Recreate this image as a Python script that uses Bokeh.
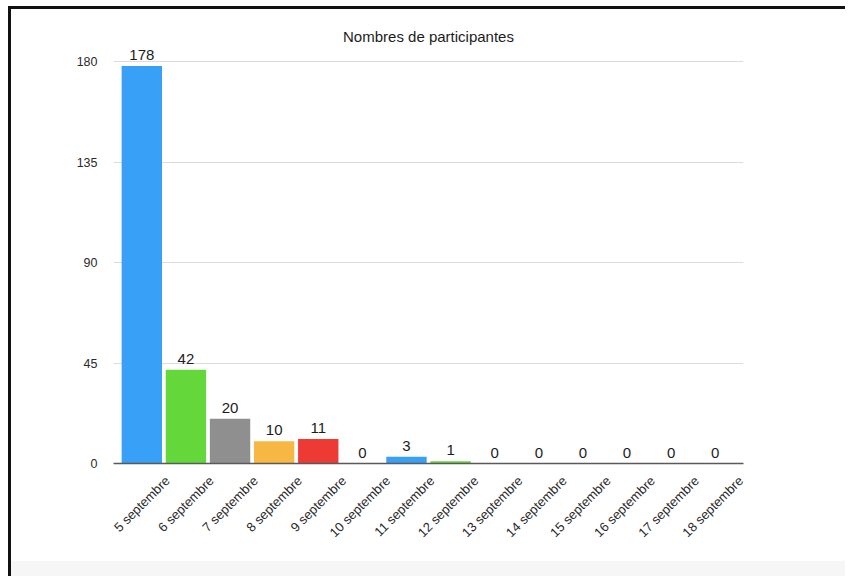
from math import pi

from bokeh.core.properties import value
from bokeh.embed import file_html
from bokeh.models import ColumnDataSource, FixedTicker, Range1d
from bokeh.plotting import figure
from bokeh.resources import INLINE
from bokeh.transform import dodge

# Data
days = [
    "5 septembre", "6 septembre", "7 septembre", "8 septembre", "9 septembre",
    "10 septembre", "11 septembre", "12 septembre", "13 septembre", "14 septembre",
    "15 septembre", "16 septembre", "17 septembre", "18 septembre",
]
participants = [178, 42, 20, 10, 11, 0, 3, 1, 0, 0, 0, 0, 0, 0]
palette = ["#39a0f8", "#64d83b", "#8f8f8f", "#f7b843", "#ee3a35", "#a45fd6"]
y_ticks = [0, 45, 90, 135, 180]

FONT = "Liberation Sans"
BAR_SHIFT = -0.58  # bars sit left of their slanted labels

idx = list(range(len(days)))
source = ColumnDataSource(dict(
    idx=idx,
    day=days,
    n=participants,
    label=[str(v) for v in participants],
    color=[palette[i % len(palette)] for i in idx],
))

p = figure(
    width=837, height=570,
    output_backend="svg", toolbar_location=None,
    x_range=Range1d(-1.222, 13.06), y_range=Range1d(0, 187.2),
    min_border_left=102, min_border_right=105,
    min_border_top=36, min_border_bottom=116,
    title="Nombres de participantes",
)

p.vbar(x=dodge("idx", BAR_SHIFT), top="n", bottom=0, width=0.915,
       fill_color="color", line_color=None, source=source)

p.text(x=dodge("idx", BAR_SHIFT), y="n", text="label",
       text_align="center", text_baseline="alphabetic", y_offset=-11,
       text_font=value(FONT), text_font_size="15px", text_color="#1c1c1c",
       source=source)

# Title
p.title.align = "center"
p.title.text_font = FONT
p.title.text_font_size = "15px"
p.title.text_font_style = "normal"
p.title.text_color = "#1c1c1c"
p.title.standoff = 1

# X axis: slanted day labels
xa = p.xaxis[0]
xa.ticker = FixedTicker(ticks=idx)
xa.major_label_overrides = {i: d for i, d in enumerate(days)}
xa.major_label_orientation = pi / 4
xa.major_label_text_font = FONT
xa.major_label_text_font_size = "13px"
xa.major_label_text_color = "#2a2a2a"
xa.major_label_standoff = 9
xa.axis_line_color = "#5a5a5a"
xa.axis_line_width = 1.5
xa.major_tick_line_color = None
xa.minor_tick_line_color = None

# Y axis: labels only
ya = p.yaxis[0]
ya.ticker = FixedTicker(ticks=y_ticks)
ya.major_label_text_font = FONT
ya.major_label_text_font_size = "12.5px"
ya.major_label_text_color = "#2a2a2a"
ya.major_label_standoff = 10
ya.axis_line_color = None
ya.major_tick_line_color = None
ya.minor_tick_line_color = None

p.xgrid.grid_line_color = None
p.ygrid.grid_line_color = "#dcdcdc"
p.ygrid.grid_line_width = 1.2
p.outline_line_color = None
p.background_fill_color = "#ffffff"
p.border_fill_color = None

# Card frame: dark top/left edges and a pale footer strip
p.styles = {
    "margin-top": "6px",
    "margin-left": "8px",
    "border-top": "3px solid #111111",
    "border-left": "3px solid #111111",
    "background": "linear-gradient(to bottom, #ffffff 552px, #f6f6f6 552px)",
}

open("out.html", "w").write(file_html(p, INLINE))
